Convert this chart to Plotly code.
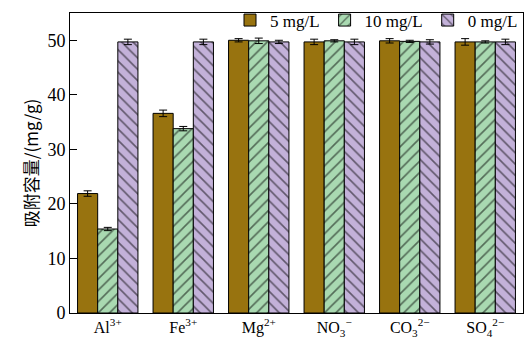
import plotly.graph_objects as go

categories = ["Al<sup>3+</sup>", "Fe<sup>3+</sup>", "Mg<sup>2+</sup>",
              "NO<sub>3</sub><sup>−</sup>", "CO<sub>3</sub><sup>2−</sup>", "SO<sub>4</sub><sup>2−</sup>"]
series_names = ["5 mg/L", "10 mg/L", "0 mg/L"]
vals_5 = [21.9, 36.6, 50.0, 49.7, 49.9, 49.7]
err_5 = [0.5, 0.6, 0.3, 0.5, 0.4, 0.6]
vals_10 = [15.4, 33.8, 49.9, 49.9, 49.8, 49.7]
err_10 = [0.3, 0.4, 0.5, 0.2, 0.2, 0.2]
vals_0 = [49.7, 49.7, 49.7, 49.7, 49.7, 49.7]
err_0 = [0.5, 0.5, 0.3, 0.5, 0.4, 0.5]

colors = ["#98730F", "#A9D9B1", "#C3B1D9"]
shapes = ["", "/", "\\"]
values = [vals_5, vals_10, vals_0]
errors = [err_5, err_10, err_0]

fig = go.Figure()
for name, v, e, c, s in zip(series_names, values, errors, colors, shapes):
    fig.add_trace(go.Bar(
        x=categories, y=v, name=name,
        error_y=dict(type="data", array=e, color="black", thickness=1, width=4),
        marker=dict(color=c, line=dict(color="black", width=1),
                    pattern=dict(shape=s, fgcolor="black", bgcolor=c, size=8, solidity=0.2)),
    ))

font_main = "Liberation Serif"
fig.update_layout(
    width=525, height=340,
    margin=dict(l=70, r=2, t=10, b=27),
    barmode="group", bargap=0.2, bargroupgap=0,
    plot_bgcolor="white", paper_bgcolor="white",
    font=dict(family=font_main, size=16, color="black"),
    legend=dict(orientation="h", x=1, xanchor="right", y=1.035, yanchor="top",
                bgcolor="rgba(0,0,0,0)", font=dict(size=17), itemwidth=30,
                traceorder="normal"),
    showlegend=True,
)
fig.update_xaxes(showline=True, linecolor="black", linewidth=1, mirror=True,
                 ticks="", tickfont=dict(size=16), ticklabelstandoff=0, automargin=False)
fig.update_yaxes(range=[0, 55], dtick=10, showline=True, linecolor="black", linewidth=1,
                 mirror=True, ticks="inside", ticklen=7, tickcolor="black",
                 showgrid=False, zeroline=False, tickfont=dict(size=18),
                 title=dict(text="吸附容量/(mg/g)", font=dict(size=17,
                            family="Noto Sans CJK SC"), standoff=4))
fig.write_html("out.html")
